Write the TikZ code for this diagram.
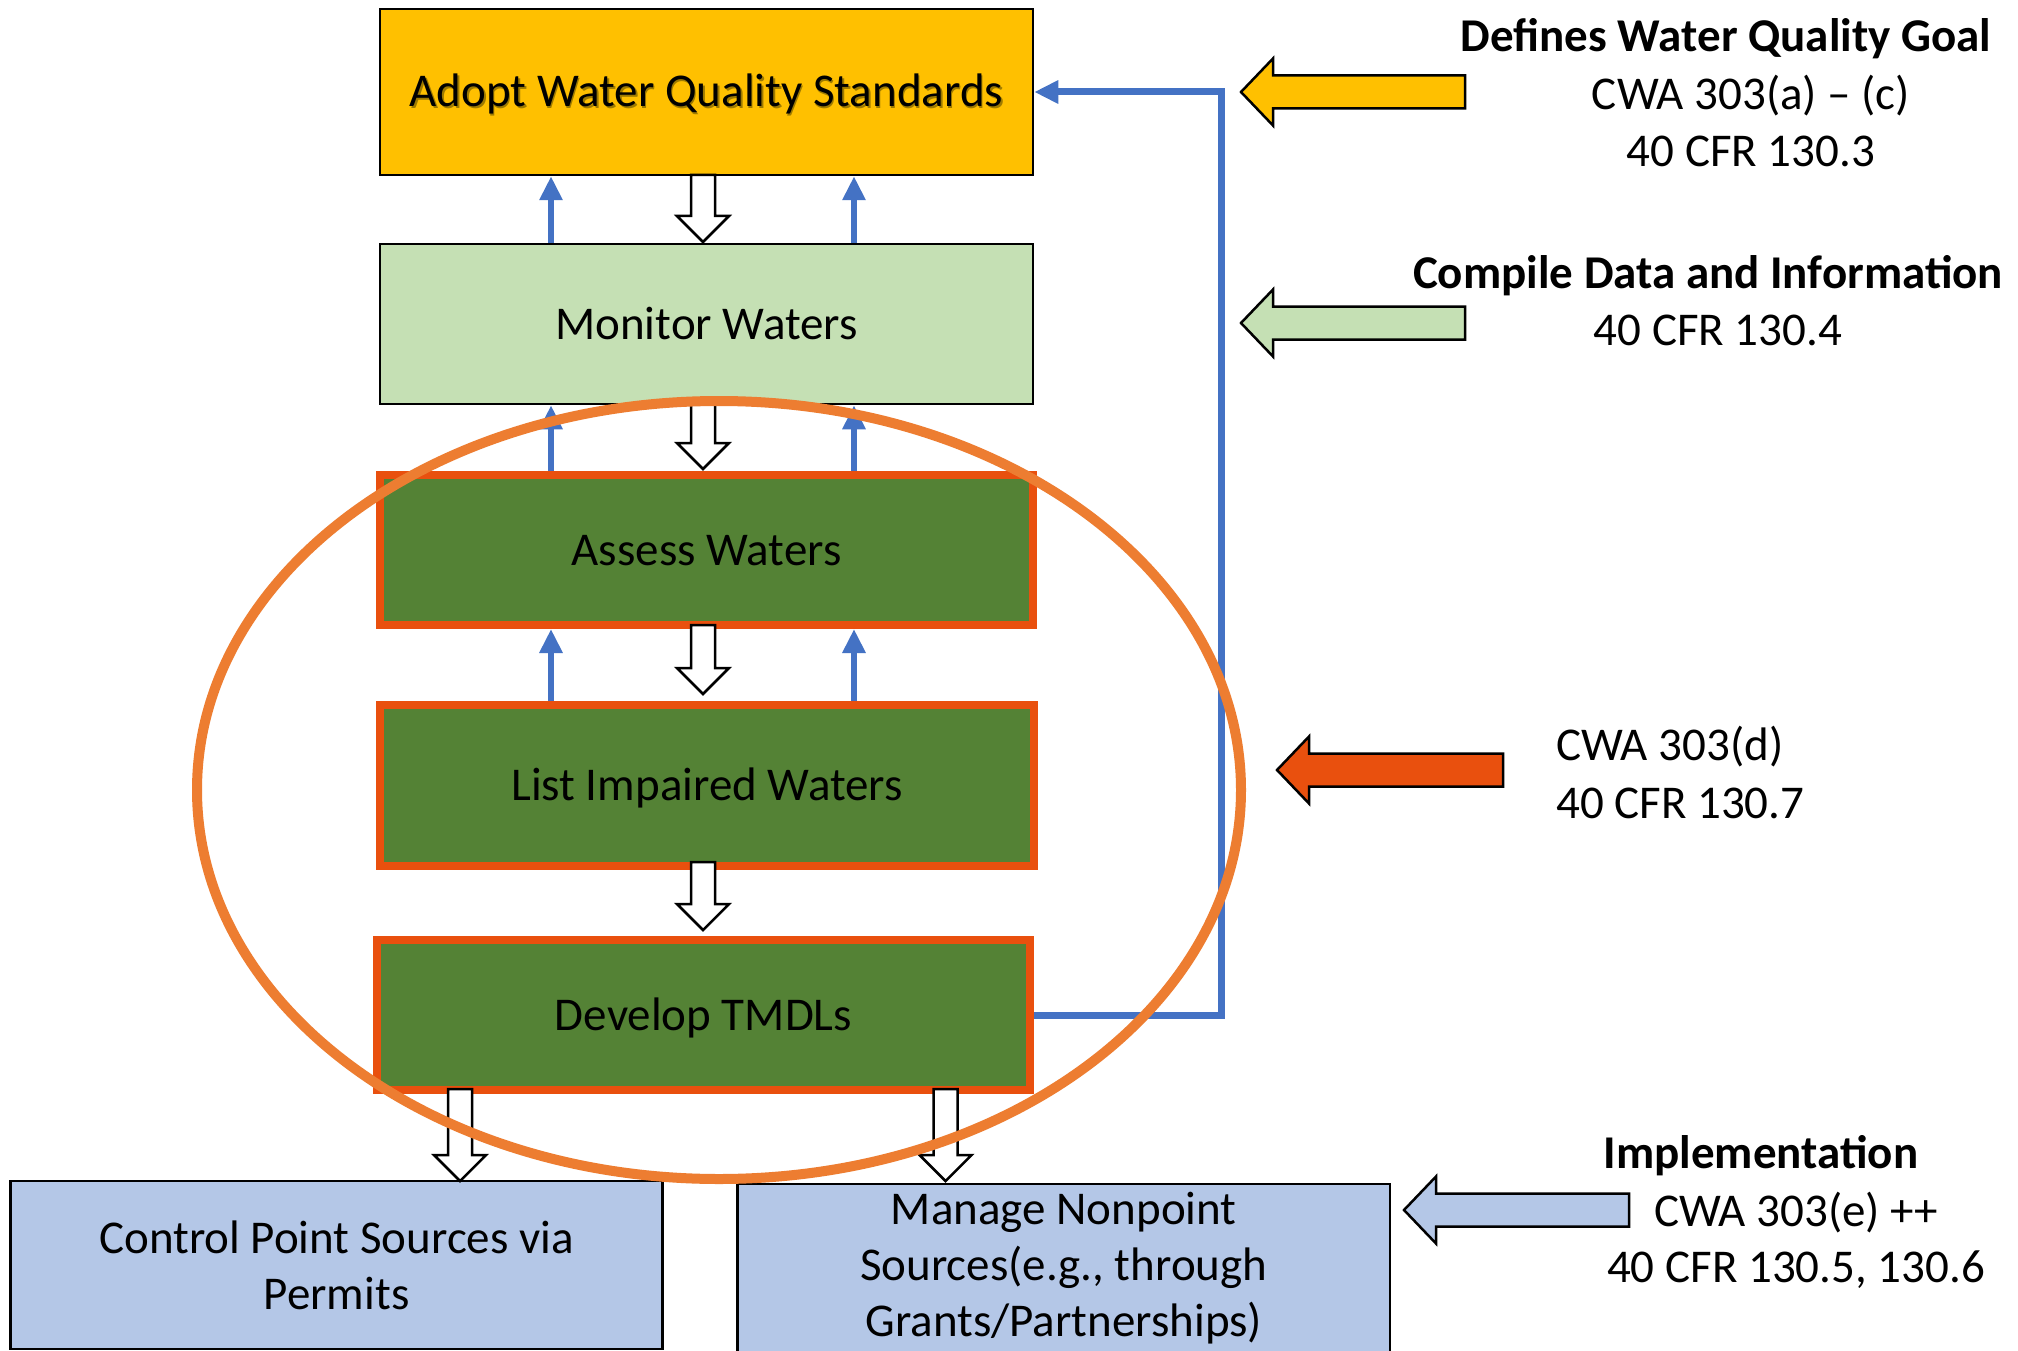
\documentclass[tikz,border=0pt]{standalone}
\usepackage{fontspec}
\setmainfont{Carlito}
\usetikzlibrary{arrows.meta,calc}
\definecolor{yel}{HTML}{FFC000}
\definecolor{ltgreen}{HTML}{C5E0B4}
\definecolor{dkgreen}{HTML}{548235}
\definecolor{ltblue}{HTML}{B4C7E7}
\definecolor{lineblue}{HTML}{4472C4}
\definecolor{ellorange}{HTML}{ED7D31}
\definecolor{redor}{HTML}{E9500E}
\definecolor{shadowc}{HTML}{9E7A00}
\newcommand\bigfs{\fontsize{47}{56}\selectfont}
\newcommand\mydblk[3]{\draw[blk] (#1-12,#2) -- (#1-12,#3-26) -- (#1-26,#3-26) -- (#1,#3) -- (#1+26,#3-26) -- (#1+12,#3-26) -- (#1+12,#2) -- cycle;}
\newcommand\mylblk[4]{\draw[sideblk,fill=#1] (#2,#4) -- (#2+32,#4-33.5) -- (#2+32,#4-16.5) -- (#3,#4-16.5) -- (#3,#4+16.5) -- (#2+32,#4+16.5) -- (#2+32,#4+33.5) -- cycle;}
\tikzset{
  box/.style={draw=black, line width=2.5pt, inner sep=0pt, minimum width=653pt,
    text height=30pt, text depth=0pt, font=\bigfs},
  gbox/.style={box, draw=redor, line width=8pt, fill=dkgreen, minimum height=150pt},
  bbox/.style={draw=black, line width=2.5pt, inner sep=0pt, fill=ltblue, minimum width=652pt,
    minimum height=168pt, align=center, font=\bigfs},
  upblue/.style={draw=lineblue, line width=6pt, -{Triangle[length=24pt,width=22pt]}},
  fb/.style={draw=lineblue, line width=7pt, line join=miter, -{Triangle[length=24pt,width=22pt]}},
  blk/.style={draw=black, line width=2.5pt, fill=white, line join=miter},
  sideblk/.style={draw=black, line width=2.5pt, line join=miter},
  lbl/.style={font=\bigfs, inner sep=0pt, anchor=base},
  lbll/.style={font=\bigfs, inner sep=0pt, anchor=base west},
  ell/.style={draw=ellorange, line width=10pt}
}
\begin{document}
\begin{tikzpicture}[x=1pt,y=-1pt]
\useasboundingbox[fill=white] (0,0) rectangle (2018,1351);
% main boxes
\node[box, fill=yel, minimum height=166pt] (adopt) at (706.5,92)
  {\rlap{\hspace{1.5pt}\raisebox{-1.5pt}{\color{shadowc}Adopt Water Quality Standards}}Adopt Water Quality Standards};
\node[box, fill=ltgreen, minimum height=160pt] (monitor) at (706.5,324) {Monitor Waters};
\node[gbox] (assess) at (706.5,550) {Assess Waters};
\node[gbox, minimum height=161pt, minimum width=654pt] (list) at (707,785.5) {List Impaired Waters};
\node[gbox] (develop) at (703.5,1015) {Develop TMDLs};
\node[bbox] (control) at (336.6,1265) {Control Point Sources via\\Permits};
\node[bbox, minimum width=652.5pt] (manage) at (1063.75,1268) {Manage Nonpoint\\Sources(e.g., through\\Grants/Partnerships)};
% blue up arrows
\coordinate (cl) at (551,0);
\coordinate (cr) at (854,0);
\draw[upblue] (cl |- monitor.north) -- (cl |- adopt.south);
\draw[upblue] (cr |- monitor.north) -- (cr |- adopt.south);
\draw[upblue] (cl |- assess.north) -- (cl |- monitor.south);
\draw[upblue] (cr |- assess.north) -- (cr |- monitor.south);
\draw[upblue] (cl |- list.north) -- (cl |- assess.south);
\draw[upblue] (cr |- list.north) -- (cr |- assess.south);
% feedback line
\coordinate (fbtop) at (1221,92);
\draw[fb] (develop.east) -| (fbtop) -- (adopt.east);
% white down block arrows
\mydblk{703}{175}{242}
\mydblk{703}{404}{469}
\mydblk{703}{625}{694}
\mydblk{703}{862}{930}
\mydblk{460}{1089}{1181}
\mydblk{945.5}{1089}{1181}
% ellipse
\draw[ell] (719,790) ellipse [x radius=522pt, y radius=389pt];
% side arrows
\mylblk{yel}{1241}{1465}{92}
\mylblk{ltgreen}{1241}{1465}{323}
\mylblk{redor}{1277}{1503}{770}
\mylblk{ltblue}{1404}{1629}{1210}
% side labels
\node[lbl] (t1) at (1726,52) {\bfseries Defines Water Quality Goal};
\node[lbl] (t2) at (1751,110) {CWA 303(a) – (c)};
\node[lbl] (t3) at (1751,167) {40 CFR 130.3};
\node[lbl] (t4) at (1708,288) {\bfseries Compile Data and Information};
\node[lbl] (t5) at (1718,345.5) {40 CFR 130.4};
\node[lbll] (t6) at (1556,760) {CWA 303(d)};
\node[lbll] (t7) at (1556,818) {40 CFR 130.7};
\node[lbl] (t8) at (1761,1168) {\bfseries Implementation};
\node[lbl] (t9) at (1796,1226) {CWA 303(e) ++};
\node[lbl] (t10) at (1796,1282) {40 CFR 130.5, 130.6};
\end{tikzpicture}
\end{document}
